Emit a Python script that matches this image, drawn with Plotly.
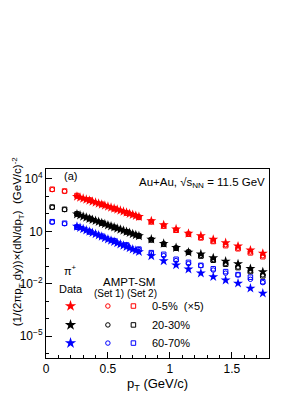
import plotly.graph_objects as go

# ---------------- data ----------------
pt_data = [0.25, 0.275, 0.30, 0.325, 0.35, 0.375, 0.40, 0.425, 0.45, 0.475, 0.50,
           0.525, 0.55, 0.575, 0.60, 0.625, 0.65, 0.675, 0.70, 0.725, 0.75,
           0.85, 0.95, 1.05, 1.15, 1.25, 1.35, 1.45, 1.55, 1.65, 1.75]

data_0_5 = [980, 858, 752, 659, 577, 505, 443, 388, 340, 298, 261,
            228, 200, 175, 154, 135, 118, 103, 90, 79, 69,
            39, 23, 13.5, 7.6, 5.5, 3.4, 2.2, 1.4, 0.83, 0.54]
data_20_30 = [95, 82, 71, 62, 53, 46, 40, 35, 30, 26, 22.5,
              19.5, 16.9, 14.6, 12.7, 11.0, 9.5, 8.2, 7.1, 6.2, 5.4,
              3.5, 2.0, 1.15, 0.63, 0.50, 0.30, 0.19, 0.135, 0.072, 0.047]
data_60_70 = [19, 16.1, 13.6, 11.5, 9.7, 8.2, 6.9, 5.9, 5.0, 4.2, 3.55,
              3.0, 2.55, 2.15, 1.82, 1.54, 1.30, 1.10, 0.93, 0.79, 0.67,
              0.39, 0.20, 0.117, 0.068, 0.040, 0.0245, 0.0158, 0.0105, 0.0054, 0.0028]

pt_ampt = [0.05, 0.15, 0.25, 0.35, 0.45, 0.55, 0.65, 0.75, 0.85,
           0.95, 1.05, 1.15, 1.25, 1.35, 1.45, 1.55, 1.65, 1.75]

set1_0_5 = [2450, 1950, 1080, 610, 345, 195, 110, 62, 35, 20, 11.8, 7.0, 4.4, 2.8, 1.7, 1.08, 0.66, 0.40]
set2_0_5 = [2570, 2040, 1120, 630, 355, 200, 112, 63, 35, 20, 11.5, 6.8, 4.2, 2.6, 1.5, 1.0, 0.58, 0.35]
set1_20_30 = [235, 175, 97, 53, 29.5, 16.5, 9.4, 5.5, 3.3, 1.9, 1.12, 0.67, 0.41, 0.24, 0.145, 0.09, 0.054, 0.032]
set2_20_30 = [245, 182, 100, 54, 30, 16.6, 9.3, 5.4, 3.2, 1.8, 1.07, 0.63, 0.38, 0.22, 0.13, 0.083, 0.049, 0.028]
set1_60_70 = [33, 27, 16.8, 9.0, 4.9, 2.75, 1.58, 0.90, 0.56, 0.40, 0.21, 0.14, 0.107, 0.060, 0.040, 0.0316, 0.0178, 0.0115]
set2_60_70 = [35.5, 29, 17.8, 9.5, 5.2, 2.9, 1.66, 0.95, 0.60, 0.48, 0.25, 0.166, 0.112, 0.071, 0.049, 0.033, 0.0235, 0.0129]

centralities = ["0-5%  (×5)", "20-30%", "60-70%"]
colors = ["#ff0000", "#000000", "#0000ff"]

x_ticks = [0, 0.5, 1, 1.5]
x_tick_text = ["0", "0.5", "1", "1.5"]
y_ticks = [1e4, 10, 1e-2, 1e-5]
y_tick_text = ["10<sup>4</sup>", "10", "10<sup>−2</sup>", "10<sup>−5</sup>"]
y_minor = [1e-6, 1e-4, 1e-3, 1e-1, 1, 1e2, 1e3]
x_minor = [0.1, 0.2, 0.3, 0.4, 0.6, 0.7, 0.8, 0.9, 1.1, 1.2, 1.3, 1.4, 1.6, 1.7]

FONT = "Liberation Sans, Arial, sans-serif"

fig = go.Figure()

data_series = [data_0_5, data_20_30, data_60_70]
set1_series = [set1_0_5, set1_20_30, set1_60_70]
set2_series = [set2_0_5, set2_20_30, set2_60_70]

for c, d1, d2, dd in zip(colors, set1_series, set2_series, data_series):
    fig.add_trace(go.Scatter(x=pt_ampt, y=d1, mode="markers",
                             marker=dict(symbol="circle-open", size=4.5, color=c, line=dict(width=1, color=c)),
                             showlegend=False))
    fig.add_trace(go.Scatter(x=pt_ampt, y=d2, mode="markers",
                             marker=dict(symbol="square-open", size=4.5, color=c, line=dict(width=1, color=c)),
                             showlegend=False))
    fig.add_trace(go.Scatter(x=pt_data, y=dd, mode="markers",
                             marker=dict(symbol="star", size=7.5, color=c, line=dict(width=0)),
                             showlegend=False))

# ---- custom legend on an overlay (0..1) axis ----
row_y = [0.275, 0.175, 0.079]
col_x = {"star": 0.11, "circle": 0.2775, "square": 0.392}
for c, ry, lab in zip(colors, row_y, centralities):
    fig.add_trace(go.Scatter(x=[col_x["star"]], y=[ry], xaxis="x2", yaxis="y2", mode="markers",
                             marker=dict(symbol="star", size=8.5, color=c, line=dict(width=0)),
                             showlegend=False, hoverinfo="skip"))
    fig.add_trace(go.Scatter(x=[col_x["circle"]], y=[ry], xaxis="x2", yaxis="y2", mode="markers",
                             marker=dict(symbol="circle-open", size=4.5, color=c, line=dict(width=1, color=c)),
                             showlegend=False, hoverinfo="skip"))
    fig.add_trace(go.Scatter(x=[col_x["square"]], y=[ry], xaxis="x2", yaxis="y2", mode="markers",
                             marker=dict(symbol="square-open", size=4.5, color=c, line=dict(width=1, color=c)),
                             showlegend=False, hoverinfo="skip"))
    fig.add_annotation(x=0.467, y=ry, xref="paper", yref="paper", text=lab, showarrow=False,
                       xanchor="left", yanchor="middle", font=dict(size=11, family=FONT, color="black"))

ann = [
    dict(x=0.11, y=0.963, text="(a)", xanchor="center", size=11),
    dict(x=0.99, y=0.926, text="Au+Au, √s<sub>NN</sub> = 11.5 GeV", xanchor="right", size=11.5),
    dict(x=0.109, y=0.466, text="π<sup>+</sup>", xanchor="center", size=11),
    dict(x=0.11, y=0.365, text="Data", xanchor="center", size=11),
    dict(x=0.374, y=0.402, text="AMPT-SM", xanchor="center", size=11.5),
    dict(x=0.284, y=0.339, text="(Set 1)", xanchor="center", size=10),
    dict(x=0.432, y=0.339, text="(Set 2)", xanchor="center", size=10),
]
for a in ann:
    sz = a.pop("size")
    fig.add_annotation(xref="paper", yref="paper", showarrow=False, yanchor="middle",
                       font=dict(size=sz, family=FONT, color="black"), **a)

# axis titles
fig.add_annotation(x=0.5, y=-0.1376, xref="paper", yref="paper", showarrow=False,
                   text="p<sub>T</sub> (GeV/c)", xanchor="center", yanchor="middle",
                   font=dict(size=13, family=FONT, color="black"))
fig.add_annotation(x=-0.128, y=0.62, xref="paper", yref="paper", showarrow=False, textangle=-90,
                   text="(1/(2πp<sub>T</sub> dy))×(dN/dp<sub>T</sub>)  (GeV/c)<sup>-2</sup>",
                   xanchor="center", yanchor="middle",
                   font=dict(size=11.5, family=FONT, color="black"))

# page body has an 8px margin, so the figure is drawn 8px smaller and offset
fig.update_layout(
    width=298, height=388,
    margin=dict(l=34, r=37, t=161, b=38),
    paper_bgcolor="white", plot_bgcolor="white",
    font=dict(family=FONT, color="black"),
    showlegend=False,
    xaxis=dict(range=[0, 1.8], tickvals=x_ticks, ticktext=x_tick_text, ticks="inside", ticklen=6,
               tickcolor="black", showline=True, linecolor="black", linewidth=1, mirror=True,
               showgrid=False, zeroline=False, tickfont=dict(size=12, family=FONT),
               minor=dict(tickvals=x_minor, ticks="inside", ticklen=3, tickcolor="black", showgrid=False)),
    yaxis=dict(type="log", range=[-6.26, 4.57], tickvals=y_ticks, ticktext=y_tick_text,
               ticks="inside", ticklen=6, tickcolor="black", showline=True, linecolor="black",
               linewidth=1, mirror=True, showgrid=False, zeroline=False,
               tickfont=dict(size=12, family=FONT),
               minor=dict(tickvals=y_minor, ticks="inside", ticklen=3, tickcolor="black", showgrid=False)),
    xaxis2=dict(overlaying="x", range=[0, 1], visible=False),
    yaxis2=dict(overlaying="y", range=[0, 1], visible=False),
)

fig.write_html("out.html")
